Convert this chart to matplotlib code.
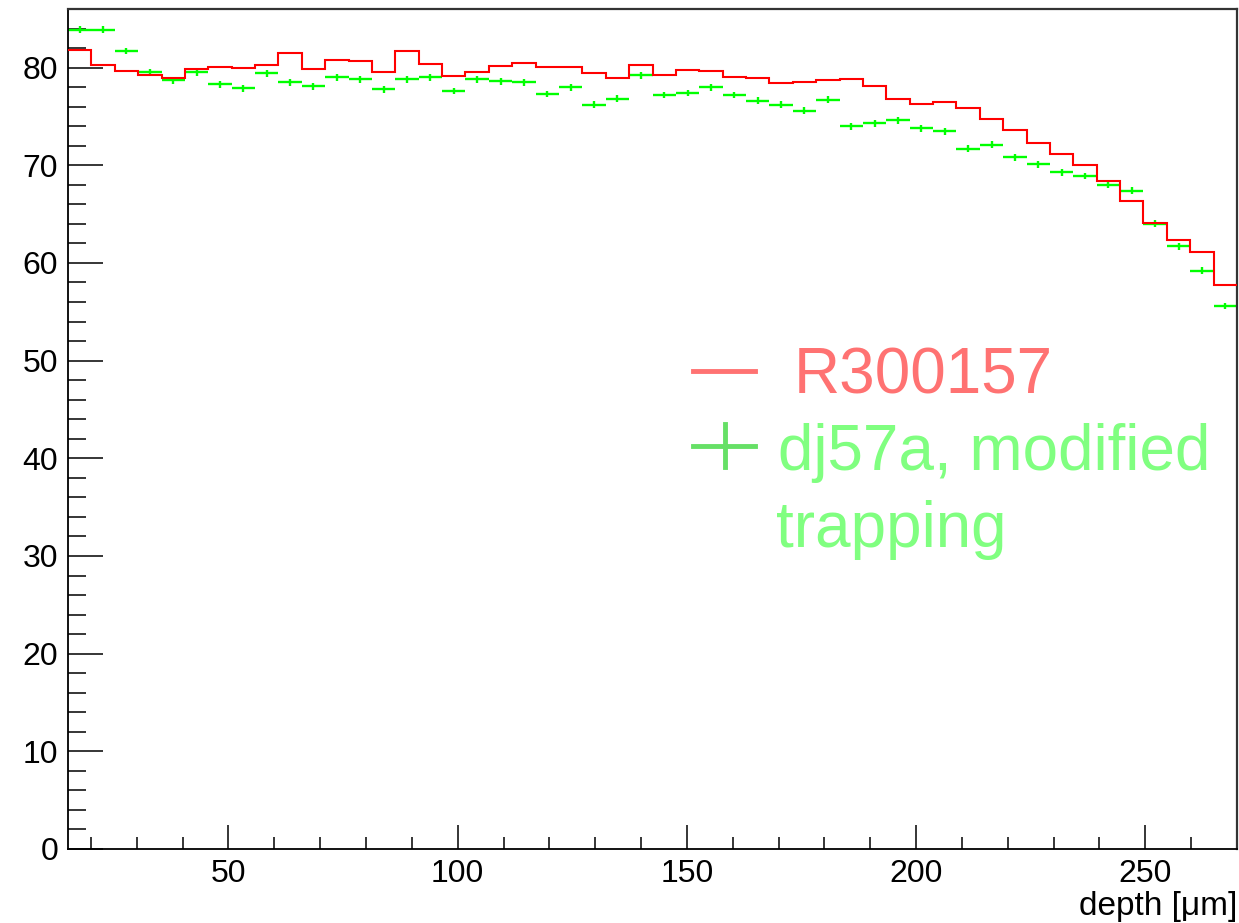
import numpy as np
import matplotlib
matplotlib.use("Agg")
import matplotlib.pyplot as plt
from matplotlib.lines import Line2D
from matplotlib.ticker import MultipleLocator

plt.rcParams['font.family'] = ['Liberation Sans', 'DejaVu Sans']

# 50 bins from 15 to 270 um
x_lo, x_hi, n_bins = 15.0, 270.0, 50

# R300157 (red step histogram)
red_vals = [81.8, 80.3, 79.7, 79.2, 78.9, 79.9, 80.1, 80.0, 80.3, 81.5,
            79.9, 80.8, 80.7, 79.6, 81.7, 80.4, 79.1, 79.6, 80.2, 80.5,
            80.1, 80.1, 79.4, 78.9, 80.3, 79.2, 79.8, 79.7, 79.0, 78.9,
            78.4, 78.5, 78.7, 78.8, 78.1, 76.8, 76.3, 76.5, 75.9, 74.7,
            73.6, 72.3, 71.2, 70.0, 68.4, 66.3, 64.1, 62.4, 61.1, 57.7]

# dj57a, modified trapping (green crosses)
green_vals = [83.9, 83.9, 81.7, 79.5, 78.7, 79.5, 78.3, 77.9, 79.4, 78.5,
              78.1, 79.0, 78.8, 77.8, 78.8, 79.0, 77.6, 78.8, 78.6, 78.5,
              77.3, 78.0, 76.2, 76.8, 79.2, 77.2, 77.4, 78.0, 77.2, 76.6,
              76.2, 75.6, 76.7, 74.0, 74.3, 74.6, 73.8, 73.5, 71.7, 72.1,
              70.8, 70.1, 69.3, 68.9, 68.0, 67.4, 64.0, 61.7, 59.2, 55.6]
green_err = 0.35

x_ticks = [50, 100, 150, 200, 250]
y_ticks = [0, 10, 20, 30, 40, 50, 60, 70, 80]

edges = np.linspace(x_lo, x_hi, n_bins + 1)
centers = 0.5 * (edges[:-1] + edges[1:])
half_w = 0.5 * (edges[1] - edges[0])

W, H = 1239, 923
fig = plt.figure(figsize=(W / 100, H / 100), dpi=100)
ax = fig.add_axes([68 / W, 1 - 849 / H, (1237 - 68) / W, (849 - 9) / H])

ax.stairs(red_vals, edges, baseline=None, color='#ff0000', lw=1.5, zorder=3)
ax.errorbar(centers, green_vals, xerr=half_w, yerr=green_err, fmt='none',
            ecolor='#00ff00', elinewidth=1.7, capsize=0, zorder=2)

ax.set_xlim(x_lo, x_hi)
ax.set_ylim(0, 86)
ax.set_xticks(x_ticks)
ax.set_yticks(y_ticks)
ax.xaxis.set_minor_locator(MultipleLocator(10))
ax.yaxis.set_minor_locator(MultipleLocator(2))
ax.tick_params(axis='both', which='both', direction='in', top=False, right=False,
               labelsize=23, colors='black', width=1.1)
ax.tick_params(axis='x', which='major', length=17, pad=7)
ax.tick_params(axis='x', which='minor', length=8.5)
ax.tick_params(axis='y', which='major', length=25, pad=7)
ax.tick_params(axis='y', which='minor', length=13)

for side in ['left', 'bottom']:
    ax.spines[side].set_color('black')
    ax.spines[side].set_linewidth(1.3)
for side in ['top', 'right']:
    ax.spines[side].set_color('#333333')
    ax.spines[side].set_linewidth(1.6)

fig.text(1237 / W, 1 - 915 / H, 'depth [\u03bcm]', ha='right', va='baseline',
         fontsize=24, color='black')

# legend, drawn by hand to match the ROOT layout
def px(x, y):
    return x / W, 1 - y / H

red_leg = '#ff7272'
green_leg = '#80ff80'
cross_leg = '#66e066'

x0, y0 = px(693, 371)
x1, _ = px(755, 371)
fig.add_artist(Line2D([x0, x1], [y0, y0], color=red_leg, lw=3.5))
gx0, gy = px(693, 446)
gx1, _ = px(755, 446)
fig.add_artist(Line2D([gx0, gx1], [gy, gy], color=cross_leg, lw=3.5))
cx, cy0 = px(724.5, 424)
_, cy1 = px(724.5, 467)
fig.add_artist(Line2D([cx, cx], [cy0, cy1], color=cross_leg, lw=3.5))

fig.text(*px(794, 393), 'R300157', ha='left', va='baseline',
         fontsize=46, color=red_leg)
fig.text(*px(778, 470), 'dj57a, modified', ha='left', va='baseline',
         fontsize=46, color=green_leg)
fig.text(*px(776, 547), 'trapping', ha='left', va='baseline',
         fontsize=46, color=green_leg)

fig.savefig('out.png', dpi=100, facecolor='white')
